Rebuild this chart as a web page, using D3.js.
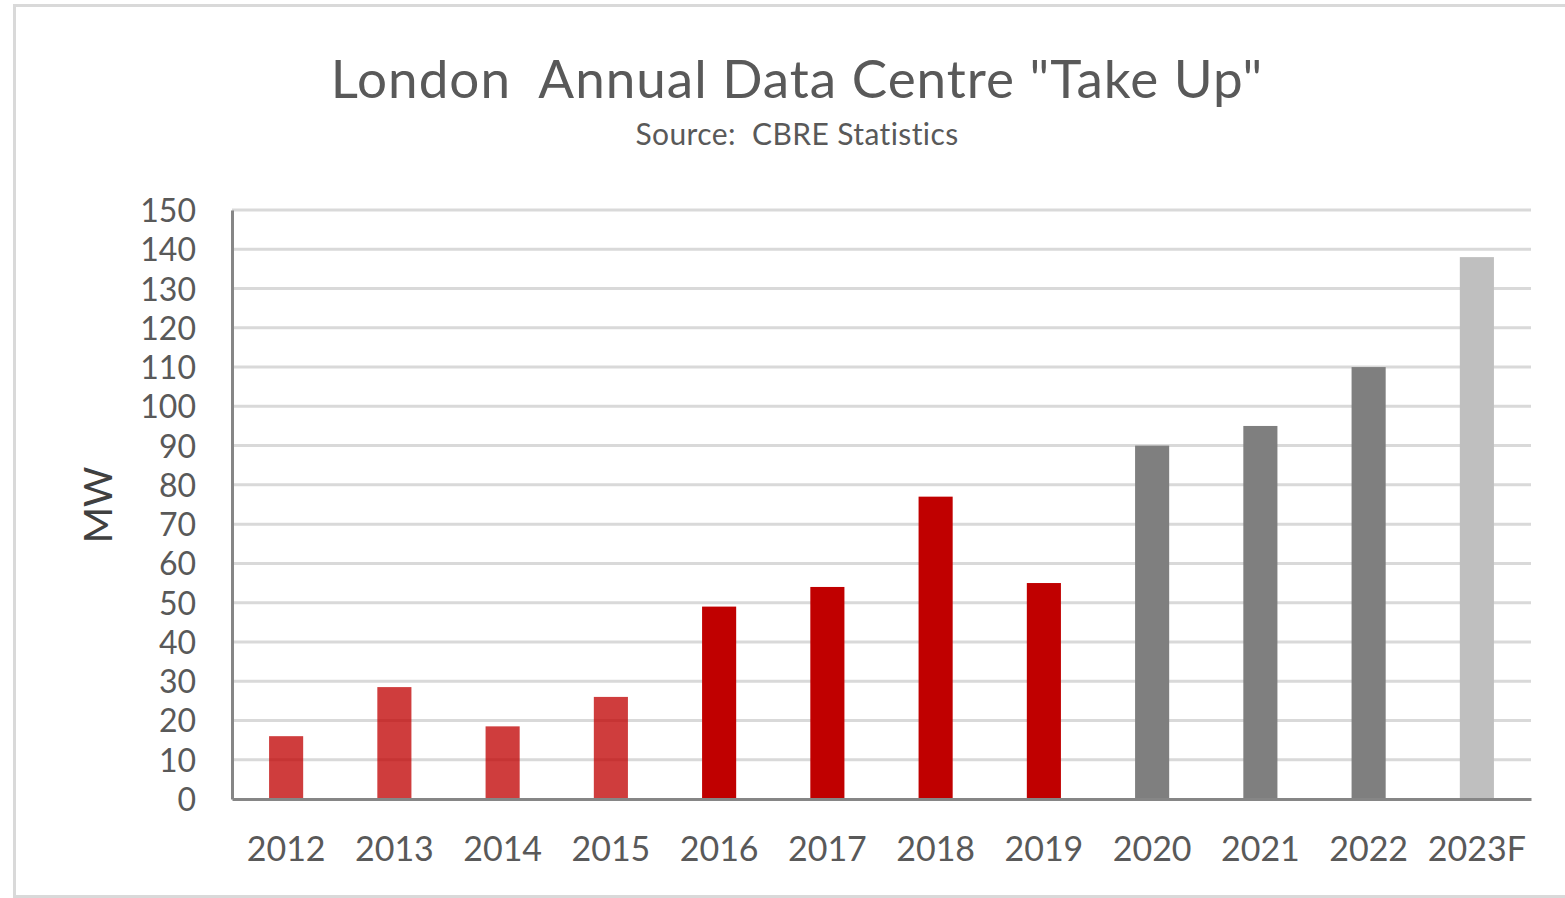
<!DOCTYPE html>
<html>
<head>
<meta charset="utf-8">
<script src="https://cdn.jsdelivr.net/npm/d3@7"></script>
<style>
  body { margin: 0; background: #fff; }
  text { font-family: Lato, "Open Sans", sans-serif; fill: #595959; }
</style>
</head>
<body>
<script>
// Data
const years = ["2012", "2013", "2014", "2015", "2016", "2017", "2018", "2019", "2020", "2021", "2022", "2023F"];
const takeUp = [16, 28.5, 18.5, 26, 49, 54, 77, 55, 90, 95, 110, 138];
const barColours = ["#c00000", "#c00000", "#c00000", "#c00000", "#c00000", "#c00000", "#c00000", "#c00000",
                    "#7f7f7f", "#7f7f7f", "#7f7f7f", "#bfbfbf"];
const barOpacity = [0.76, 0.76, 0.76, 0.76, 1, 1, 1, 1, 1, 1, 1, 1];
const yTicks = d3.range(0, 151, 10);

const W = 1565, H = 898;
const margin = { top: 210, right: 34, bottom: 99, left: 232 },
      width = W - margin.left - margin.right,
      height = H - margin.top - margin.bottom;

const svg = d3.select("body").append("svg")
    .attr("width", W)
    .attr("height", H);

// chart frame
svg.append("rect")
    .attr("x", 14.5).attr("y", 5.5)
    .attr("width", 1600).attr("height", 891)
    .attr("fill", "none")
    .attr("stroke", "#d9d9d9")
    .attr("stroke-width", 3);

// titles
svg.append("text")
    .attr("x", 797).attr("y", 98)
    .attr("text-anchor", "middle")
    .style("font-size", "53px")
    .style("letter-spacing", "1px")
    .style("white-space", "pre")
    .text("London  Annual Data Centre \"Take Up\"");

svg.append("text")
    .attr("x", 797).attr("y", 145)
    .attr("text-anchor", "middle")
    .style("font-size", "30px")
    .style("letter-spacing", "0.4px")
    .style("white-space", "pre")
    .text("Source:  CBRE Statistics");

const g = svg.append("g")
    .attr("transform", "translate(" + margin.left + "," + margin.top + ")");

const x = d3.scaleBand()
    .domain(years)
    .range([0, width])
    .paddingInner(0.685)
    .paddingOuter(0.3425);

const y = d3.scaleLinear()
    .domain([0, 150])
    .range([height, 0]);

// gridlines
g.append("g")
  .selectAll("line")
    .data(yTicks.filter(d => d > 0))
  .enter().append("line")
    .attr("x1", 0).attr("x2", width)
    .attr("y1", d => y(d)).attr("y2", d => y(d))
    .attr("stroke", "#d9d9d9")
    .attr("stroke-width", 3);

// bars
g.append("g")
  .selectAll("rect")
    .data(years)
  .enter().append("rect")
    .attr("x", d => x(d))
    .attr("y", (d, i) => y(takeUp[i]))
    .attr("width", x.bandwidth())
    .attr("height", (d, i) => height - y(takeUp[i]))
    .attr("fill", (d, i) => barColours[i])
    .attr("fill-opacity", (d, i) => barOpacity[i]);

// y axis
const yAxis = g.append("g")
    .call(d3.axisLeft(y).tickValues(yTicks).tickSize(0).tickPadding(36));
yAxis.select(".domain").attr("stroke", "#868686").attr("stroke-width", 3);
yAxis.selectAll("text")
    .style("font-size", "32px")
    .attr("fill", "#595959")
    .attr("dy", "0.36em");

// x axis
const xAxis = g.append("g")
    .attr("transform", "translate(0," + height + ")")
    .call(d3.axisBottom(x).tickSize(0).tickPadding(38));
xAxis.select(".domain").attr("stroke", "#868686").attr("stroke-width", 3);
xAxis.selectAll("text")
    .style("font-size", "34px")
    .attr("fill", "#595959");

// axis title
svg.append("text")
    .attr("transform", "translate(112,505) rotate(-90)")
    .attr("text-anchor", "middle")
    .style("font-size", "39px")
    .style("fill", "#404040")
    .text("MW");
</script>
</body>
</html>
